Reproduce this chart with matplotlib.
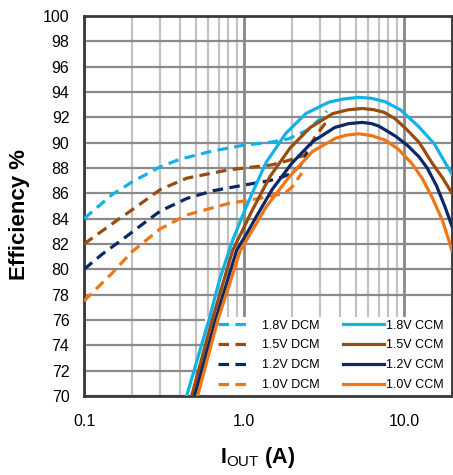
import matplotlib
matplotlib.use("Agg")
import matplotlib.pyplot as plt
from matplotlib.patches import Rectangle
from matplotlib.lines import Line2D

plt.rcParams['font.family'] = ['Liberation Sans', 'DejaVu Sans']
plt.rcParams['mathtext.fontset'] = 'custom'
plt.rcParams['mathtext.rm'] = 'Liberation Sans'
plt.rcParams['mathtext.bf'] = 'Liberation Sans:bold'

# ---------------- data ----------------
labels_dcm = ["1.8V DCM", "1.5V DCM", "1.2V DCM", "1.0V DCM"]
labels_ccm = ["1.8V CCM", "1.5V CCM", "1.2V CCM", "1.0V CCM"]
colors = ["#13B1EA", "#9A4B0D", "#0A2766", "#EF7618"]

dcm18_x = [0.1, 0.15, 0.2, 0.3, 0.4, 0.64, 1.0, 1.5, 1.9, 2.5, 3.0, 3.3]
dcm18_y = [84.0, 85.9, 86.9, 88.1, 88.7, 89.35, 89.8, 90.05, 90.3, 91.0, 91.9, 92.5]
dcm15_x = [0.1, 0.15, 0.2, 0.3, 0.44, 0.8, 1.5, 1.9, 2.4, 2.8, 3.3]
dcm15_y = [82.0, 83.6, 84.7, 86.3, 87.2, 87.85, 88.25, 88.6, 89.0, 90.5, 91.7]
dcm12_x = [0.1, 0.13, 0.18, 0.24, 0.3, 0.44, 0.64, 1.0, 1.44, 1.75, 2.0, 2.25, 2.5]
dcm12_y = [80.0, 81.2, 82.5, 83.7, 84.6, 85.6, 86.2, 86.65, 87.0, 87.3, 87.6, 88.2, 89.2]
dcm10_x = [0.1, 0.15, 0.2, 0.3, 0.44, 0.8, 1.25, 1.8, 2.0, 2.3]
dcm10_y = [77.5, 79.7, 81.4, 83.2, 84.3, 85.2, 85.6, 86.0, 86.5, 87.6]

ccm18_x = [0.40, 0.438, 0.604, 0.705, 0.85, 1.03, 1.37, 1.83, 2.44, 3.4, 4.2, 5.25, 6.3, 7.65, 9.5, 12.4, 15.5, 20]
ccm18_y = [68, 70, 76, 79.2, 82.3, 84.9, 88.4, 90.74, 92.3, 93.2, 93.45, 93.58, 93.5, 93.23, 92.6, 91.26, 89.9, 87.5]
ccm15_x = [0.43, 0.471, 0.633, 0.85, 1.0, 1.1, 1.45, 1.95, 2.6, 3.6, 4.5, 5.5, 6.5, 7.5, 8.8, 10.5, 12.5, 15, 17.5, 20]
ccm15_y = [68, 70, 76, 81.5, 83.3, 84.4, 87.3, 89.6, 91.2, 92.3, 92.6, 92.7, 92.6, 92.4, 91.9, 91.0, 90.0, 88.4, 87.2, 86.0]
ccm12_x = [0.45, 0.492, 0.664, 0.90, 1.05, 1.2, 1.5, 2.0, 2.7, 3.7, 4.5, 5.5, 6.3, 7.0, 8.9, 10.5, 12.4, 14, 16, 18, 20]
ccm12_y = [68, 70, 76, 81.5, 82.9, 84.2, 86.3, 88.4, 90.1, 91.2, 91.5, 91.6, 91.5, 91.3, 90.5, 89.8, 88.9, 88.0, 86.6, 85.0, 83.4]
ccm10_x = [0.47, 0.513, 0.687, 0.83, 0.95, 1.05, 1.38, 1.92, 2.68, 3.74, 4.4, 5.25, 6.3, 7.65, 9.2, 11.2, 13, 15, 17.5, 20]
ccm10_y = [68, 70, 76, 79.2, 81.5, 82.4, 84.95, 87.3, 89.3, 90.35, 90.6, 90.7, 90.55, 90.2, 89.5, 88.37, 87.2, 85.7, 83.8, 81.5]

yticks = [70, 72, 74, 76, 78, 80, 82, 84, 86, 88, 90, 92, 94, 96, 98, 100]
xticks = [0.1, 1.0, 10.0]
xticklabels = ["0.1", "1.0", "10.0"]

dcm = [(dcm18_x, dcm18_y), (dcm15_x, dcm15_y), (dcm12_x, dcm12_y), (dcm10_x, dcm10_y)]
ccm = [(ccm18_x, ccm18_y), (ccm15_x, ccm15_y), (ccm12_x, ccm12_y), (ccm10_x, ccm10_y)]

# ---------------- figure ----------------
W, H = 453, 475
fig = plt.figure(figsize=(W / 100, H / 100), dpi=100)
L, R, T, B = 84, 452, 16, 396
ax = fig.add_axes([L / W, 1 - B / H, (R - L) / W, (B - T) / H])
ax.set_xscale('log')
ax.set_xlim(0.1, 20)
ax.set_ylim(70, 100)

ax.set_axisbelow(True)
ax.grid(True, which='major', axis='x', color='#888888', linewidth=2.0)
ax.grid(True, which='minor', axis='x', color='#c2c2c2', linewidth=1.6)
ax.grid(True, which='major', axis='y', color='#8a8a8a', linewidth=1.6)
ax.set_yticks(yticks)
ax.set_xticks(xticks)
ax.set_xticklabels(xticklabels)
ax.tick_params(axis='both', which='both', length=0, labelsize=11.5)
ax.tick_params(axis='y', pad=10.5)
ax.tick_params(axis='x', pad=13)
for s in ax.spines.values():
    s.set_color('#3a3a3a')
    s.set_linewidth(2.0)

dash = (0, (3.3, 2.0))
lw = 2.3
for (x, y), c in zip(dcm, colors):
    ax.plot(x, y, color=c, lw=lw, linestyle=dash, zorder=3, solid_capstyle='butt')
for (x, y), c in zip(ccm, colors):
    ax.plot(x, y, color=c, lw=lw, zorder=4, solid_joinstyle='round')

# legend background
x0 = (205 - L) / (R - L)
hgt = (B - 317) / (B - T)
ax.add_patch(Rectangle((x0, 0.0), 1.2, hgt, transform=ax.transAxes,
                       facecolor='white', edgecolor='none', zorder=2.5, clip_on=True))

h1 = [Line2D([], [], color=c, lw=lw, linestyle=dash) for c in colors]
h2 = [Line2D([], [], color=c, lw=lw) for c in colors]
anchor_y = 1 - (316 - T) / (B - T)
leg1 = ax.legend(h1, labels_dcm, loc='upper left',
                 bbox_to_anchor=((214 - L) / (R - L), anchor_y),
                 frameon=False, fontsize=9, handlelength=2.3, handletextpad=1.2,
                 labelspacing=0.62, borderpad=0.3, borderaxespad=0)
ax.add_artist(leg1)
leg2 = ax.legend(h2, labels_ccm, loc='upper left',
                 bbox_to_anchor=((339 - L) / (R - L), anchor_y),
                 frameon=False, fontsize=9, handlelength=3.3, handletextpad=0.15,
                 labelspacing=0.62, borderpad=0.3, borderaxespad=0)

fig.text(20 / W, 1 - 214 / H, "Efficiency %", rotation=90, ha='center', va='center',
         fontsize=16, fontweight='bold')
fig.text(258 / W, 1 - 457 / H, r"$\mathbf{I}_{\mathrm{OUT}}$ (A)", ha='center', va='center',
         fontsize=15.5, fontweight='bold')

fig.savefig("out.png", dpi=100)
